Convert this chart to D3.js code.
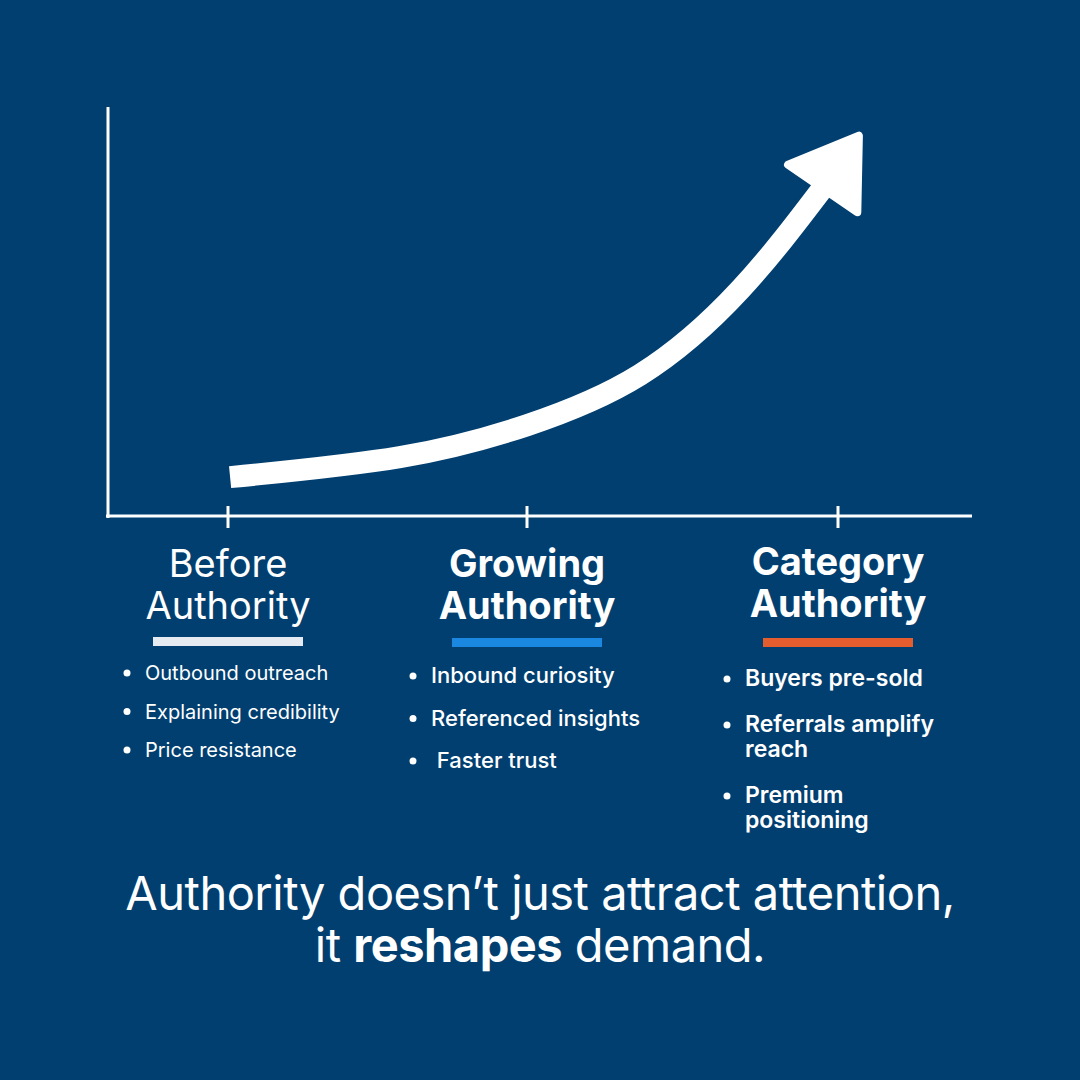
<!DOCTYPE html>
<html><head><meta charset="utf-8">
<script src="https://cdn.jsdelivr.net/npm/d3@7"></script>
<style>body{margin:0;background:#013f70}svg{display:block}</style>
</head><body><div id="chart"></div>
<script>
// Stages along the x axis
const stages = ['Before Authority', 'Growing Authority', 'Category Authority'];
const stageTitles = [['Before', 'Authority'], ['Growing', 'Authority'], ['Category', 'Authority']];
const underlineColors = ['#e6ebf2', '#1a88e0', '#e35d2e'];
const bullets = [
    [['Outbound outreach'], ['Explaining credibility'], ['Price resistance']],
    [['Inbound curiosity'], ['Referenced insights'], [' Faster trust']],
    [['Buyers pre-sold'], ['Referrals amplify', 'reach'], ['Premium', 'positioning']]
];
// Growth curve, x in stage units, y in 0-100
const curveX = [0.007, 0.575, 1.0, 1.363, 1.685, 1.958];
const curveY = [9.5, 14.4, 22.2, 34.5, 55.3, 80.9];

const W = 1080, H = 1080;
const svg = d3.select('#chart').append('svg').attr('width', W).attr('height', H);
svg.append('rect').attr('width', W).attr('height', H).attr('fill', '#013f70');

const x = d3.scaleLinear().domain([0, 1, 2]).range([228, 527, 838]);
const y = d3.scaleLinear().domain([0, 100]).range([516, 107]);
const font = 'Inter, "Noto Sans", sans-serif';

// Axes
svg.append('line').attr('x1', 108).attr('x2', 108).attr('y1', 107).attr('y2', 518)
    .attr('stroke', '#fff').attr('stroke-width', 3);
svg.append('line').attr('x1', 106).attr('x2', 972).attr('y1', y(0)).attr('y2', y(0))
    .attr('stroke', '#fff').attr('stroke-width', 3);
svg.selectAll('.tick').data(stages).join('line')
    .attr('x1', (d, i) => x(i)).attr('x2', (d, i) => x(i))
    .attr('y1', y(0) - 10).attr('y2', y(0) + 12)
    .attr('stroke', '#fff').attr('stroke-width', 3);

// Curve
const pts = curveX.map((v, i) => [x(v), y(curveY[i])]);
svg.append('path').datum(pts)
    .attr('d', d3.line().curve(d3.curveNatural))
    .attr('fill', 'none').attr('stroke', '#fff').attr('stroke-width', 22);

// Arrowhead
const [p0, p1] = pts.slice(-2);
const ang = Math.atan2(p1[1] - p0[1], p1[0] - p0[0]) - 0.08;
const ux = Math.cos(ang), uy = Math.sin(ang), nx = -uy, ny = ux;
const bx = p1[0] - ux * 4, by = p1[1] - uy * 4;
const tip = [bx + ux * 64, by + uy * 64];
svg.append('path')
    .attr('d', d3.line()([tip, [bx + nx * 42, by + ny * 42], [bx - nx * 42, by - ny * 42]]) + 'Z')
    .attr('fill', '#fff').attr('stroke', '#fff').attr('stroke-width', 8).attr('stroke-linejoin', 'round');

// Stage titles and bullets
const weights = [400, 700, 700];
const bulletWeights = [400, 500, 600];
const bulletSize = [20, 22, 23];
const bulletStart = [680, 683, 686];
const bulletGap = [38.5, 42.5, 46];
const bulletX = [145, 431, 745];
stages.forEach((s, i) => {
    const g = svg.append('g');
    stageTitles[i].forEach((t, j) => {
        g.append('text').attr('x', x(i)).attr('y', 577 + j * 42 - (i === 2 ? 2 : 0))
            .attr('text-anchor', 'middle').attr('fill', '#fff')
            .attr('font-family', font).attr('font-weight', weights[i]).attr('font-size', 38)
            .text(t);
    });
    g.append('rect').attr('x', x(i) - 75).attr('y', i === 0 ? 637 : 638)
        .attr('width', 150).attr('height', 9).attr('fill', underlineColors[i]);
    let yy = bulletStart[i];
    bullets[i].forEach(lines => {
        g.append('circle').attr('cx', bulletX[i] - 18).attr('cy', yy - 7).attr('r', 3.5).attr('fill', '#fff');
        lines.forEach((l, k) => {
            g.append('text').attr('x', bulletX[i]).attr('y', yy + k * 25)
                .attr('fill', '#fff').attr('font-family', font)
                .attr('font-weight', bulletWeights[i]).attr('font-size', bulletSize[i])
                .attr('xml:space', 'preserve').text(l);
        });
        yy += bulletGap[i] + (lines.length - 1) * 25;
    });
});

// Footer
svg.append('text').attr('x', 540).attr('y', 910).attr('text-anchor', 'middle')
    .attr('fill', '#fff').attr('font-family', font).attr('font-size', 47).attr('letter-spacing', -0.5)
    .text('Authority doesn’t just attract attention,');
const t2 = svg.append('text').attr('x', 540).attr('y', 962).attr('text-anchor', 'middle')
    .attr('fill', '#fff').attr('font-family', font).attr('font-size', 47).attr('letter-spacing', -0.5);
t2.append('tspan').text('it ');
t2.append('tspan').attr('font-weight', 700).text('reshapes');
t2.append('tspan').text(' demand.');
</script></body></html>
